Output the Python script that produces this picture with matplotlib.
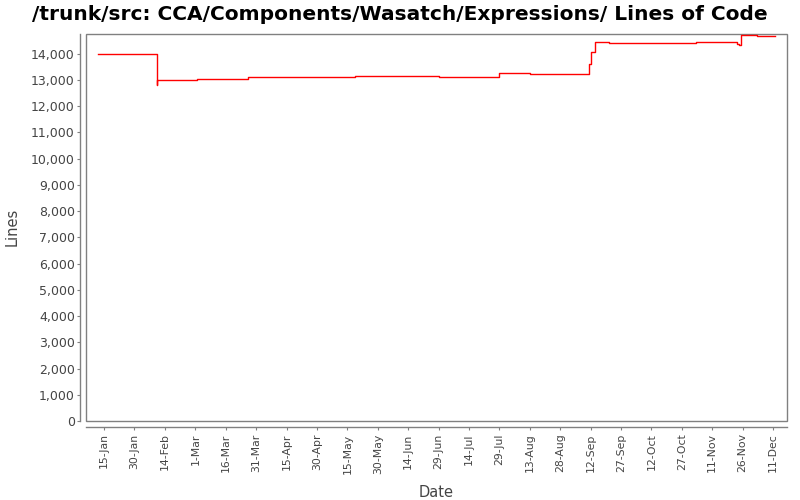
import matplotlib
matplotlib.use('Agg')
import matplotlib.pyplot as plt
import pandas as pd
from matplotlib.patches import Rectangle

# step data (year assumed 2011)
dates = ['2011-01-12', '2011-02-10', '2011-02-10', '2011-03-02', '2011-03-27',
         '2011-05-19', '2011-06-29', '2011-07-29', '2011-08-13', '2011-09-11',
         '2011-09-12', '2011-09-14', '2011-09-21', '2011-11-03', '2011-11-23',
         '2011-11-24', '2011-11-25', '2011-12-03', '2011-12-12']
lines = [14000, 12800, 13000, 13035, 13110,
         13150, 13110, 13265, 13225, 13610,
         14070, 14450, 14410, 14450, 14370,
         14330, 14715, 14680, 14680]

tick_labels = ['15-Jan', '30-Jan', '14-Feb', '1-Mar', '16-Mar', '31-Mar', '15-Apr',
               '30-Apr', '15-May', '30-May', '14-Jun', '29-Jun', '14-Jul', '29-Jul',
               '13-Aug', '28-Aug', '12-Sep', '27-Sep', '12-Oct', '27-Oct', '11-Nov',
               '26-Nov', '11-Dec']
y_ticks = list(range(0, 15000, 1000))

df = pd.DataFrame({'date': pd.to_datetime(dates), 'lines': lines})
tick_dates = pd.to_datetime([t + '-2011' for t in tick_labels], format='%d-%b-%Y')

fig = plt.figure(figsize=(8, 5), dpi=100)
ax = fig.add_axes([0.1075, 0.158, 0.8765, 0.775])

ax.step(df['date'], df['lines'], where='post', color='red', linewidth=1.0)

ax.set_xlim(pd.Timestamp('2011-01-06 02:00'), pd.Timestamp('2011-12-18'))
ax.set_ylim(0, 14770)

ax.set_xticks(tick_dates)
ax.set_xticklabels(tick_labels)
ax.set_yticks(y_ticks)
ax.set_yticklabels([f'{v:,}' for v in y_ticks])
ax.tick_params(axis='both', length=2, width=0.8, color='#808080', pad=2,
               labelcolor='#444444')
ax.tick_params(axis='x', labelrotation=90, pad=3, labelsize=7.8)
ax.tick_params(axis='y', labelsize=9)

# JFreeChart style: outline box plus axis lines offset a few pixels
for side in ['top', 'right']:
    ax.spines[side].set_visible(False)
for side in ['left', 'bottom']:
    ax.spines[side].set_position(('outward', 4))
    ax.spines[side].set_color('#808080')
    ax.spines[side].set_linewidth(1.0)
ax.add_patch(Rectangle((0, 0), 1, 1, transform=ax.transAxes, fill=False,
                       edgecolor='#808080', linewidth=1.0, clip_on=False))

ax.set_xlabel('Date', fontsize=10.5, color='#444444')
ax.set_ylabel('Lines', fontsize=10.5, color='#444444')
ax.xaxis.set_label_coords(0.5, -0.165)
ax.yaxis.set_label_coords(-0.094, 0.5)
fig.suptitle('/trunk/src: CCA/Components/Wasatch/Expressions/ Lines of Code',
             fontsize=14.5, fontweight='bold', x=0.5, y=0.99)

fig.savefig('out.png', dpi=100)
